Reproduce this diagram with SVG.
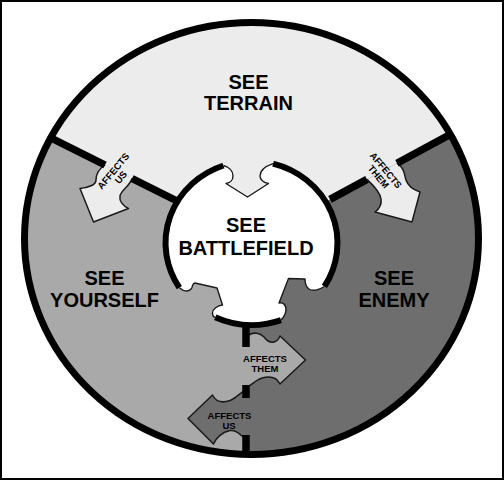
<svg xmlns="http://www.w3.org/2000/svg" width="504" height="480" viewBox="0 0 504 480">
<style>
.lt{fill:#ececec}
.md{fill:#a9a9a9}
.dk{fill:#6e6e6e}
.ol{fill:none;stroke:#1a1a1a;stroke-width:1.4;stroke-linejoin:round}
.ar{stroke:#1a1a1a;stroke-width:1.5;stroke-linejoin:round}
.bar{fill:none;stroke:#000;stroke-width:7.5;stroke-linecap:butt}
.ring{fill:none;stroke:#000;stroke-width:6;stroke-linecap:butt}
.big{font-family:"Liberation Sans",Arial,sans-serif;font-weight:bold;font-size:20px;text-anchor:middle;fill:#000}
.sm{font-family:"Liberation Sans",Arial,sans-serif;font-weight:bold;font-size:9.5px;text-anchor:middle;fill:#000}
</style>
<defs>
<clipPath id="outer"><ellipse cx="251.5" cy="238.5" rx="227" ry="216"/></clipPath>
</defs>
<rect width="504" height="480" fill="#fff"/>

<g id="see-yourself">
<rect class="md" width="504" height="480" clip-path="url(#outer)"/>
<text class="big" x="104.5" y="285">SEE<tspan x="104.5" y="306.7">YOURSELF</tspan></text>
</g>
<g id="see-terrain">
<path class="lt" clip-path="url(#outer)" d="M0,0 L504,0 L504,105.4 L330,199.4 L251.5,243 L178,201.5 L0,112.5 Z"/>
<text class="big" x="248.5" y="88.5">SEE<tspan x="248.5" y="110">TERRAIN</tspan></text>
</g>
<g id="see-enemy">
<path class="dk" clip-path="url(#outer)" d="M504,105.4 L330,199.4 L251.5,243 L246,300 L246,480 L504,480 Z"/>
<text class="big" x="394" y="285">SEE<tspan x="394" y="306.7">ENEMY</tspan></text>
</g>

<g id="see-battlefield">
<ellipse cx="251.5" cy="243" rx="86" ry="82" fill="#fff"/>
<path class="ring" d="M273,163.6 A86,82 0 0 1 324.4,286.5"/>
<path class="ring" d="M281,320.1 A86,82 0 0 1 215.2,317.3"/>
<path class="ring" d="M179.4,287.7 A86,82 0 0 1 223.5,165.5"/>
<text class="big" x="246" y="232.3">SEE<tspan x="246" y="255">BATTLEFIELD</tspan></text>
</g>

<g id="connectors">
<!-- terrain into battlefield -->
<path class="lt" d="M223.5,165.5 C229,167 233,171 233,176 C233,180 230,183 226,183.5 L247.5,197 L268.5,183.5 C264,183 260,180 260,176 C260,170 266,166 273,163.6 L276.9,149.1 L218.4,151.4 Z"/>
<path class="ol" d="M223.5,165.5 C229,167 233,171 233,176 C233,180 230,183 226,183.5 L247.5,197 L268.5,183.5 C264,183 260,180 260,176 C260,170 266,166 273,163.6"/>
<!-- yourself into battlefield -->
<path class="md" d="M179.4,287.7 C184,292 189,292 191.5,288.5 C193,286 192,283.5 195,283 L217,288 L222.5,305 C217.5,305.5 212.5,309 212.5,313 C212.5,315.5 213.5,317 215.2,317.3 L208.6,330.8 L166.6,295.6 Z"/>
<path class="ol" d="M179.4,287.7 C184,292 189,292 191.5,288.5 C193,286 192,283.5 195,283 L217,288 L222.5,305 C217.5,305.5 212.5,309 212.5,313 C212.5,315.5 213.5,317 215.2,317.3"/>
<!-- enemy into battlefield -->
<path class="dk" d="M324.4,286.5 C320,289 313,292 309,289 C306,287 305,283 305,279 L288.5,278.5 L279,303 C283,302 286,305 286,309 C286,313 284,317 281,320.1 L286.4,334.1 L337.3,294.2 Z"/>
<path class="ol" d="M324.4,286.5 C320,289 313,292 309,289 C306,287 305,283 305,279 L288.5,278.5 L279,303 C283,302 286,305 286,309 C286,313 284,317 281,320.1"/>

<!-- terrain affects us -->
<path class="lt ar" d="M105,165 C99,169 96,175 96,180 C96,185 90,187 80,188.5 L93.5,222 L128.5,208.5 C123,206 119,201 120,196 C121,190 130,186 132,178.5"/>
<!-- terrain affects them -->
<path class="lt ar" d="M367,179.4 C373,185 380,192 381,199 C382,205 379,209 375,212 L412,222 L420,192 C414,190 408,186 406,180 C404,174 405,169 397,163.2"/>
<!-- yourself affects them -->
<path class="md ar" d="M246,335 L250,334.5 C254,332 260,333 264,337 C267,341 270,343 274,342 C277,341 279,339 280,336 L305.5,360 L280,384 C278,380 274,377 269,377 C264,377 259,379 256,381 C253,383 251,386 246,387"/>
<!-- enemy affects us -->
<path class="dk ar" d="M246,390 C241,392 236,398 230,400.5 C223,403 216,402 212.5,395 L188,418.5 L213.5,444 C216,438 222,432 230,430.5 C235,430 239,433 242,436 L246,438"/>

<!-- dividing lines -->
<path class="bar" d="M49,137 L105,165 M132,178.5 L178,201.5"/>
<path class="bar" d="M451,134 L397,163.2 M367,179.4 L330,199.4"/>
<path class="bar" d="M246,326 L246,347 M246,385 L246,398 M246,435 L246,456"/>

<g transform="translate(117,174.2) rotate(-50)">
<text class="sm" x="0" y="-1.5">AFFECTS<tspan x="0" y="8.3">US</tspan></text>
</g>
<g transform="translate(382.2,173.4) rotate(50)">
<text class="sm" x="0" y="-1.5">AFFECTS<tspan x="0" y="8.3">THEM</tspan></text>
</g>
<text class="sm" x="265" y="361.7">AFFECTS<tspan x="265" y="371.7">THEM</tspan></text>
<text class="sm" x="229.5" y="419.3">AFFECTS<tspan x="229" y="429.3">US</tspan></text>
</g>

<ellipse cx="251.5" cy="238.5" rx="227" ry="216" fill="none" stroke="#000" stroke-width="7"/>
<rect x="1" y="1" width="502" height="478" fill="none" stroke="#000" stroke-width="2"/>
</svg>
